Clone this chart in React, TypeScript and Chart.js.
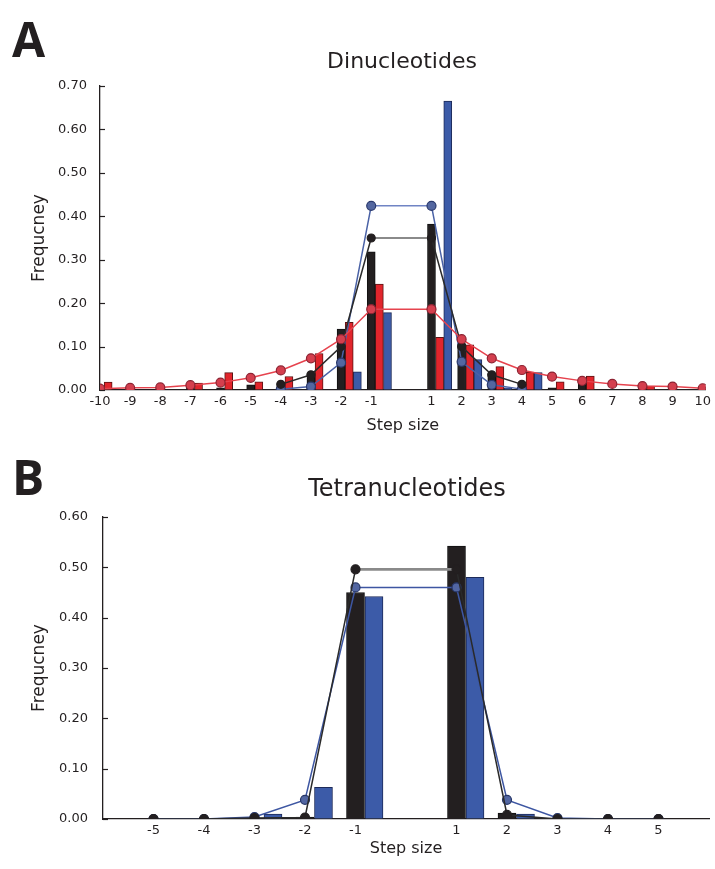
import React, { useEffect, useRef } from "react";
import { Chart, registerables } from "chart.js";

Chart.register(...registerables);

const FONT = "'DejaVu Sans', 'Open Sans', sans-serif";
const LETTER_FONT = "'Open Sans', 'DejaVu Sans', sans-serif";
const INK = "#231f20";

// ---------- Panel A: Dinucleotides ----------
const dinucSteps = [-10, -9, -8, -7, -6, -5, -4, -3, -2, -1, 1, 2, 3, 4, 5, 6, 7, 8, 9, 10];
const dinucBlackBars = [0, 0, 0, 0.013, 0.005, 0.012, 0.016, 0.038, 0.14, 0.318, 0.382, 0.107, 0.038, 0.013, 0.005, 0.018, 0, 0.01, 0, 0.008];
const dinucRedBars = [0.018, 0, 0, 0.016, 0.04, 0.019, 0.031, 0.084, 0.156, 0.244, 0.121, 0.104, 0.054, 0.041, 0.019, 0.032, 0, 0.009, 0, 0];
const dinucBlueBars = [0, 0, 0, 0, 0, 0, 0, 0, 0.042, 0.178, 0.665, 0.07, 0.005, 0.04, 0, 0, 0, 0, 0, 0];
const dinucRedLine = [0.003, 0.005, 0.006, 0.011, 0.017, 0.028, 0.045, 0.073, 0.117, 0.186, 0.186, 0.117, 0.073, 0.046, 0.031, 0.021, 0.014, 0.009, 0.008, 0.004];
const dinucBlackLine = [null, null, null, null, null, null, 0.013, 0.035, 0.1, 0.35, 0.35, 0.1, 0.035, 0.013, null, null, null, null, null, null];
const dinucBlueLine = [null, null, null, null, null, null, 0.002, 0.008, 0.063, 0.424, 0.424, 0.065, 0.012, 0.002, null, null, null, null, null, null];
const dinucYLabels = ["0.00", "0.10", "0.20", "0.30", "0.40", "0.50", "0.60", "0.70"];

// ---------- Panel B: Tetranucleotides ----------
const tetraSteps = [-5, -4, -3, -2, -1, 1, 2, 3, 4, 5];
const tetraBlackBars = [0, 0, 0.002, 0.004, 0.45, 0.542, 0.012, 0, 0, 0];
const tetraBlueBars = [0, 0, 0.01, 0.063, 0.442, 0.48, 0.01, 0, 0, 0];
const tetraBlackLine = [0, 0, 0.002, 0.003, 0.496, 0.496, 0.008, 0, 0, 0];
const tetraBlueLine = [0, 0, 0.004, 0.038, 0.46, 0.46, 0.038, 0.002, 0, 0];
const tetraYLabels = ["0.00", "0.10", "0.20", "0.30", "0.40", "0.50", "0.60"];

type Val = number | null;

const pts = (steps: number[], vals: Val[], dx = 0) =>
  steps.flatMap((s, i) => (vals[i] == null ? [] : [{ x: s + dx, y: vals[i] as number }]));

const isMid = (ctx: any) => ctx.p0.parsed.x === -1 && ctx.p1.parsed.x === 1;

const inwardTicks = {
  id: "inwardTicks",
  afterDraw(chart: any) {
    const ys = chart.scales.y;
    const { ctx, chartArea } = chart;
    ctx.save();
    ctx.strokeStyle = INK;
    ctx.lineWidth = 1.2;
    ys.ticks.forEach((t: any) => {
      const py = Math.round(ys.getPixelForValue(t.value)) + 0.5;
      ctx.beginPath();
      ctx.moveTo(chartArea.left, py);
      ctx.lineTo(chartArea.left + 5, py);
      ctx.stroke();
    });
    ctx.restore();
  },
};

function barSet(steps: number[], vals: Val[], dx: number, fill: string, border: string, thick: number) {
  return {
    type: "bar" as const,
    data: pts(steps, vals, dx),
    backgroundColor: fill,
    borderColor: border,
    borderWidth: 1,
    barThickness: thick,
    grouped: false,
    order: 10,
  };
}

function lineSet(
  steps: number[],
  vals: Val[],
  color: string,
  ptFill: string,
  ptBorder: string,
  midColor: string,
  midWidth: number,
  radius: number,
  order: number
) {
  return {
    type: "line" as const,
    data: pts(steps, vals),
    borderColor: color,
    borderWidth: 1.5,
    pointRadius: radius,
    pointBackgroundColor: ptFill,
    pointBorderColor: ptBorder,
    pointBorderWidth: 1.2,
    tension: 0,
    order,
    segment: {
      borderColor: (ctx: any) => (isMid(ctx) ? midColor : undefined),
      borderWidth: (ctx: any) => (isMid(ctx) ? midWidth : undefined),
    },
  };
}

function makeOptions(p: {
  xMin: number;
  xMax: number;
  yMax: number;
  yLabels: string[];
  xShown: number[];
  padTop: number;
  padRight: number;
  yWidth: number;
  xHeight: number;
  yLabelPad: number;
  xTitlePadBottom: number;
}) {
  return {
    responsive: false,
    animation: false as const,
    layout: { padding: { top: p.padTop, right: p.padRight, left: 0, bottom: 0 } },
    plugins: { legend: { display: false }, tooltip: { enabled: false }, title: { display: false } },
    scales: {
      x: {
        type: "linear" as const,
        min: p.xMin,
        max: p.xMax,
        offset: false,
        afterFit: (s: any) => {
          s.height = p.xHeight;
        },
        grid: { display: true, drawOnChartArea: false, drawTicks: false },
        border: { display: true, color: INK, width: 1.3 },
        ticks: {
          stepSize: 1,
          includeBounds: false,
          autoSkip: false,
          maxRotation: 0,
          padding: 4,
          color: INK,
          font: { family: FONT, size: 13 },
          callback: (v: any) => (p.xShown.includes(v) ? String(v) : ""),
        },
        title: {
          display: true,
          text: "Step size",
          color: INK,
          font: { family: FONT, size: 16 },
          padding: { top: 0, bottom: p.xTitlePadBottom },
        },
      },
      y: {
        min: 0,
        max: p.yMax,
        afterFit: (s: any) => {
          s.width = p.yWidth;
        },
        grid: { display: true, drawOnChartArea: false, drawTicks: false },
        border: { display: true, color: INK, width: 1.3 },
        ticks: {
          stepSize: 0.1,
          padding: p.yLabelPad,
          color: INK,
          font: { family: FONT, size: 13 },
          callback: (_v: any, i: number) => p.yLabels[i],
        },
        title: {
          display: true,
          text: "Frequcney",
          color: INK,
          font: { family: FONT, size: 17 },
          padding: { top: 29, bottom: 0 },
        },
      },
    },
  };
}

export default function App() {
  const refA = useRef<HTMLCanvasElement>(null);
  const refB = useRef<HTMLCanvasElement>(null);

  useEffect(() => {
    const A = 0.27;
    const chartA = new Chart(refA.current as HTMLCanvasElement, {
      type: "bar",
      data: {
        datasets: [
          lineSet(dinucSteps, dinucRedLine, "#e6434e", "#d43f4e", "#8e2433", "#e6434e", 1.5, 4.5, 0),
          lineSet(dinucSteps, dinucBlackLine, "#2a2a2a", "#231f20", "#231f20", "#8a8a8a", 2.2, 4, 1),
          lineSet(dinucSteps, dinucBlueLine, "#4a62a6", "#5467a0", "#2b3a6e", "#7084c4", 1.5, 4.5, 2),
          barSet(dinucSteps, dinucBlackBars, 0, "#231f20", "#111111", 8),
          barSet(dinucSteps, dinucRedBars, A, "#e1252c", "#5a1414", 8),
          barSet(dinucSteps, dinucBlueBars, 2 * A, "#3c5ba8", "#1d2a58", 8),
        ] as any,
      },
      options: makeOptions({
        xMin: -10,
        xMax: 10.1,
        yMax: 0.7,
        yLabels: dinucYLabels,
        xShown: dinucSteps,
        padTop: 86,
        padRight: 5,
        yWidth: 100,
        xHeight: 55,
        yLabelPad: 13,
        xTitlePadBottom: 10,
      }) as any,
      plugins: [inwardTicks],
    });

    const B = 0.366;
    const chartB = new Chart(refB.current as HTMLCanvasElement, {
      type: "bar",
      data: {
        datasets: [
          lineSet(tetraSteps, tetraBlackLine, "#2a2a2a", "#231f20", "#231f20", "#8a8a8a", 2.6, 4.5, 0),
          lineSet(tetraSteps, tetraBlueLine, "#3d56a2", "#5266a2", "#263668", "#3d56a2", 1.5, 4.5, 1),
          barSet(tetraSteps, tetraBlackBars, 0, "#231f20", "#111111", 18),
          barSet(tetraSteps, tetraBlueBars, B, "#3c5ba8", "#1d2a58", 18),
        ] as any,
      },
      options: makeOptions({
        xMin: -6,
        xMax: 6,
        yMax: 0.6,
        yLabels: tetraYLabels,
        xShown: tetraSteps,
        padTop: 77,
        padRight: 6,
        yWidth: 103,
        xHeight: 50,
        yLabelPad: 15,
        xTitlePadBottom: 11,
      }) as any,
      plugins: [inwardTicks],
    });

    return () => {
      chartA.destroy();
      chartB.destroy();
    };
  }, []);

  const txt = (extra: React.CSSProperties): React.CSSProperties => ({
    position: "absolute",
    fontFamily: FONT,
    color: INK,
    lineHeight: 1,
    whiteSpace: "nowrap",
    margin: 0,
    ...extra,
  });

  return (
    <div style={{ position: "absolute", left: 0, top: 0, width: 715, height: 869, background: "#fff", overflow: "hidden" }}>
      <canvas ref={refA} width={715} height={445} style={{ position: "absolute", left: 0, top: 0, width: 715, height: 445 }} />
      <canvas ref={refB} width={715} height={429} style={{ position: "absolute", left: 0, top: 440, width: 715, height: 429 }} />
      <div style={txt({ left: 12, top: 15, fontSize: 48, fontWeight: 700, fontFamily: LETTER_FONT })}>A</div>
      <div style={txt({ left: 12, top: 453, fontSize: 48, fontWeight: 700, fontFamily: LETTER_FONT })}>B</div>
      <div style={txt({ left: 402, top: 50, fontSize: 22, transform: "translateX(-50%)" })}>Dinucleotides</div>
      <div style={txt({ left: 407, top: 476, fontSize: 24, transform: "translateX(-50%)" })}>Tetranucleotides</div>
    </div>
  );
}
